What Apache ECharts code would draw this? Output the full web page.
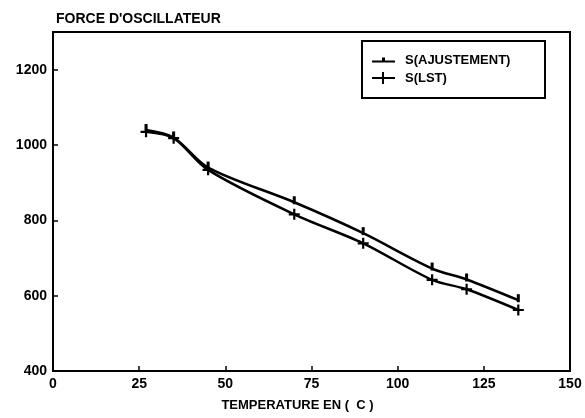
<!DOCTYPE html>
<html><head><meta charset="utf-8">
<script src="https://cdn.jsdelivr.net/npm/echarts@6/dist/echarts.min.js"></script>
<style>html,body{margin:0;padding:0;background:#fff}#c{width:585px;height:418px}</style>
</head><body><div id="c"></div>
<script>
const temperatures = [27, 35, 45, 70, 90, 110, 120, 135];
const sAjustement = [1040, 1020, 940, 848, 766, 672, 643, 588];
const sLst = [1035, 1018, 934, 816, 739, 642, 617, 562];
const xTicks = [0, 25, 50, 75, 100, 125, 150];
const yTicks = [400, 600, 800, 1000, 1200];
const seriesNames = ['S(AJUSTEMENT)', 'S(LST)'];

const FONT = '"Liberation Sans", Arial, sans-serif';
const pair = (xs, ys) => xs.map((x, i) => [x, ys[i]]);

const chart = echarts.init(document.getElementById('c'), null, {renderer: 'canvas'});
chart.setOption({
  backgroundColor: '#fff',
  animation: false,
  title: {
    text: "FORCE D'OSCILLATEUR",
    left: 51, top: 7,
    textStyle: {fontFamily: FONT, fontWeight: 'bold', fontSize: 14, color: '#000'}
  },
  grid: {left: 53, right: 15, top: 32, bottom: 47, show: true, borderColor: '#000', borderWidth: 2, backgroundColor: 'transparent'},
  legend: {
    orient: 'vertical', left: 362, top: 41,
    padding: [12, 10, 12, 10], itemGap: 4, itemWidth: 23, itemHeight: 14,
    symbolKeepAspect: true,
    data: [
      {name: seriesNames[0], icon: 'path://M0,4H23V6H0Z M10,1H13V6H10Z'},
      {name: seriesNames[1], icon: 'path://M0,5H23V7H0Z M10,0H12V12H10Z'}
    ],
    textStyle: {fontFamily: FONT, fontWeight: 'bold', fontSize: 13, lineHeight: 14, color: '#000', padding: [0, 0, 0, 5]}
  },
  graphic: [{
    type: 'rect', shape: {x: 362, y: 41, width: 183, height: 57},
    style: {fill: 'none', stroke: '#000', lineWidth: 2}, z: 100
  }],
  xAxis: {
    type: 'value', min: xTicks[0], max: xTicks[xTicks.length - 1], interval: 25,
    name: 'TEMPERATURE EN (  C )', nameLocation: 'middle', nameGap: 28,
    nameTextStyle: {fontFamily: FONT, fontWeight: 'bold', fontSize: 13, color: '#000', padding: [0, 28, 0, 0]},
    axisLine: {show: true, lineStyle: {color: '#000', width: 2}},
    axisTick: {show: true, inside: true, length: 5, lineStyle: {color: '#000', width: 1.5}},
    axisLabel: {fontFamily: FONT, fontWeight: 'bold', fontSize: 14, color: '#000', margin: 6},
    splitLine: {show: false}
  },
  yAxis: {
    type: 'value', min: 400, max: 1300, interval: 200,
    axisLine: {show: true, lineStyle: {color: '#000', width: 2}},
    axisTick: {show: true, inside: true, length: 5, lineStyle: {color: '#000', width: 1.5}},
    axisLabel: {fontFamily: FONT, fontWeight: 'bold', fontSize: 14, color: '#000', margin: 6,
      formatter: v => (yTicks.indexOf(v) >= 0 ? String(v) : '')},
    splitLine: {show: false}
  },
  series: [
    {
      name: seriesNames[0], type: 'line', smooth: 0.3,
      data: pair(temperatures, sAjustement),
      symbol: 'path://M0,0H3V8H0Z', symbolSize: [3, 8], symbolOffset: [0, -2], symbolKeepAspect: false,
      showAllSymbol: true,
      lineStyle: {color: '#000', width: 2.5},
      itemStyle: {color: '#000'}
    },
    {
      name: seriesNames[1], type: 'line', smooth: 0.3,
      data: pair(temperatures, sLst),
      symbol: 'path://M4,0H6V4H10V6H6V10H4V6H0V4H4Z', symbolSize: 11,
      showAllSymbol: true,
      lineStyle: {color: '#000', width: 2.5},
      itemStyle: {color: '#000'}
    }
  ]
});
</script></body></html>
